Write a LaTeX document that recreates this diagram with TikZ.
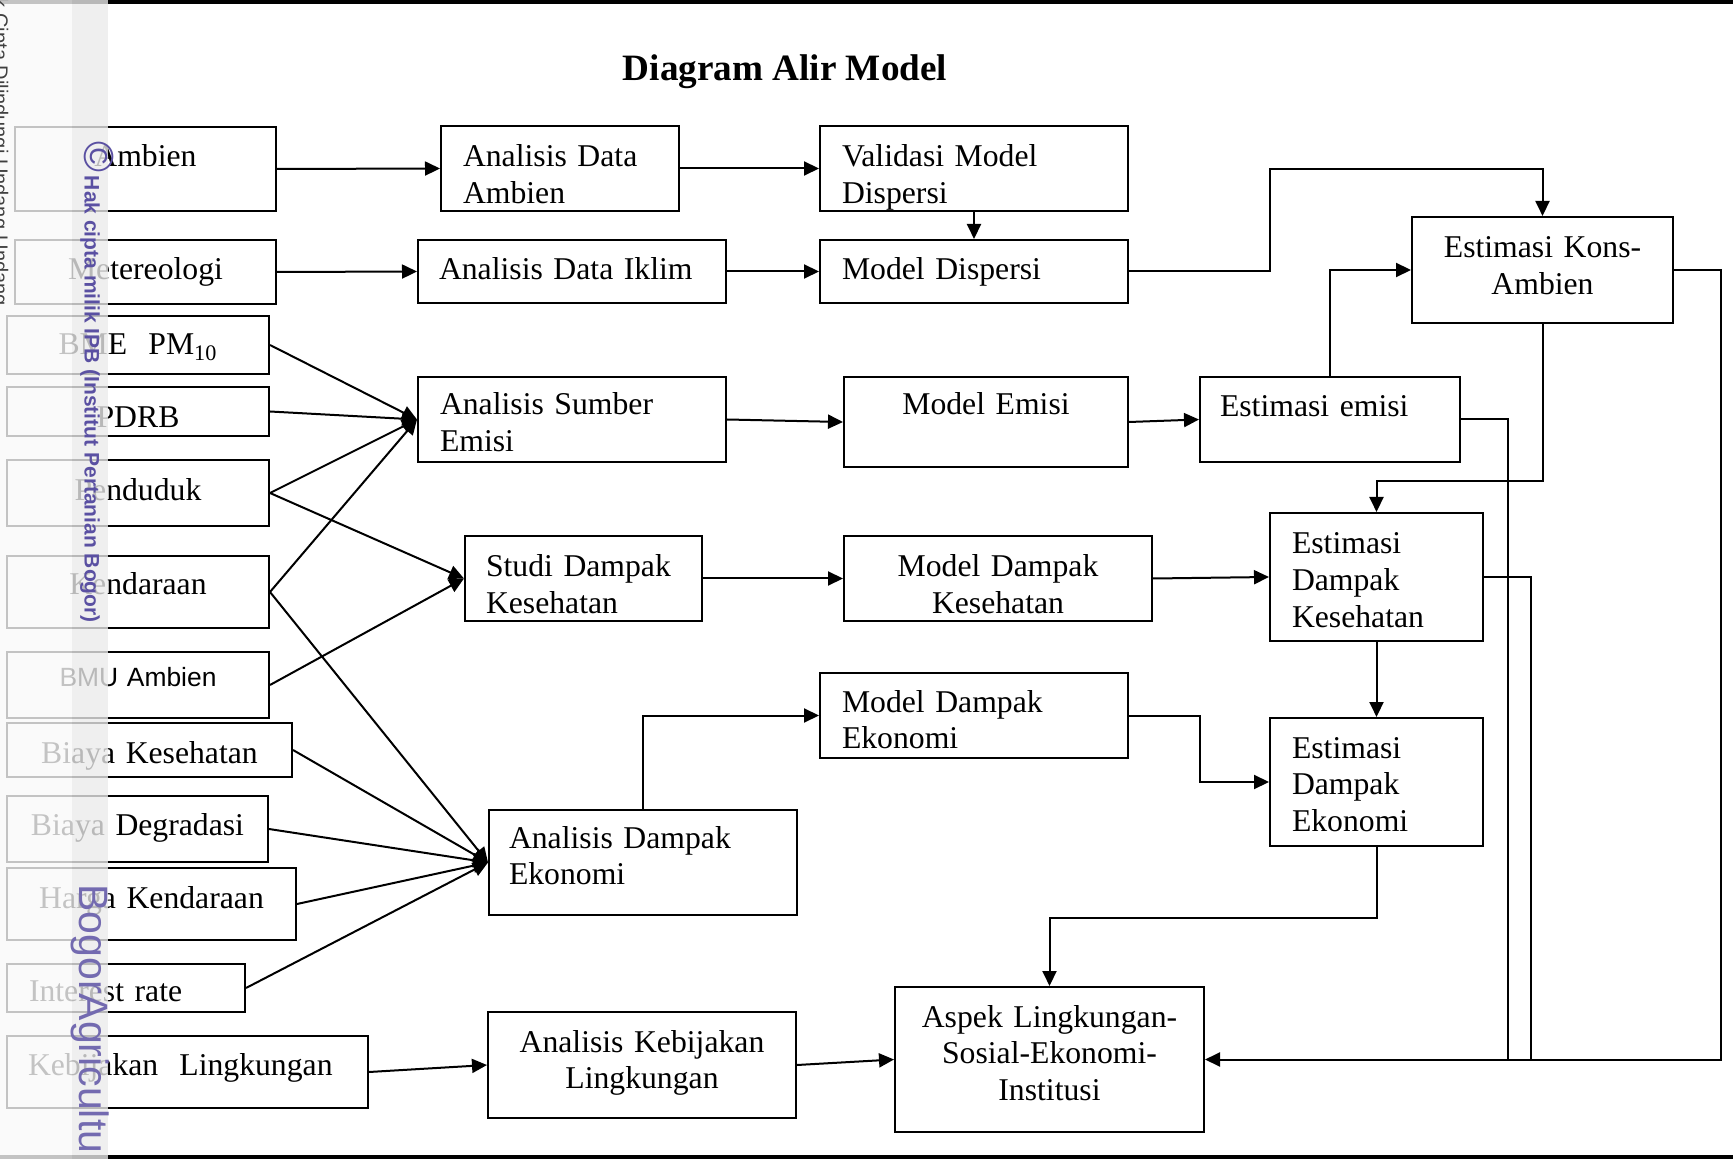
\documentclass[tikz,border=0pt]{standalone}
\usepackage{fontspec}
\setmainfont{Liberation Serif}
\newfontfamily\arialfont{Liberation Sans}
\usetikzlibrary{arrows.meta}
\definecolor{ipbpurple}{RGB}{90,80,162}

\begin{document}
\begin{tikzpicture}[x=0.5pt, y=-0.5pt]
\tikzstyle{box}=[draw, line width=1pt, rectangle, inner ysep=0pt, font=\fontsize{15.85}{18.25}\selectfont]
\tikzstyle{link}=[line width=1pt, -{Triangle[length=7.5pt, width=7pt]}]
\tikzstyle{wire}=[line width=1pt]
\tikzset{wh/.style n args={3}{minimum width=#1*0.5pt, minimum height=#2*0.5pt, inner xsep=#3*0.5pt, text width=(#1-2*#3)*0.5pt},
  drop/.style={text height=#1pt, text depth=0pt},
  rise/.style={text height=0pt, text depth=#1pt}}
\useasboundingbox (0,0) rectangle (1733,1159);

\fill (0,0) rectangle (1733,4);
\fill (0,1155) rectangle (1733,1159);
\draw (785,81) node[anchor=base, font=\bfseries\fontsize{18.6}{22}\selectfont] (title) {Diagram Alir Model};

% data masukan
\draw (145.5,169) node[box, wh={261}{84}{10}, align=center, rise=2] (ambien) {Ambien};
\draw (145.5,272) node[box, wh={261}{64}{10}, align=center, drop=8] (meteo) {Metereologi};
\draw (138,345) node[box, wh={262}{58}{10}, align=center, drop=10] (bme) {BME~~PM\textsubscript{10}};
\draw (138,411.5) node[box, wh={262}{49}{10}, align=center, drop=16.5] (pdrb) {PDRB};
\draw (138,493) node[box, wh={262}{66}{10}, align=center, drop=8] (pend) {Penduduk};
\draw (138,592) node[box, wh={262}{72}{10}, align=center, drop=3] (kend) {Kendaraan};
\draw (138,685) node[box, wh={262}{66}{10}, align=center, drop=1, font=\arialfont\fontsize{13.2}{15}\selectfont] (bmu) {BMU Ambien};
\draw (149.5,750) node[box, wh={285}{54}{10}, align=center, drop=13] (bkes) {Biaya Kesehatan};
\draw (137.5,829) node[box, wh={261}{66}{10}, align=center, drop=6] (bdeg) {Biaya Degradasi};
\draw (151.5,904) node[box, wh={289}{72}{10}, align=center, drop=4] (hkend) {Harga Kendaraan};
\draw (126,988) node[box, wh={238}{48}{22}, align=left, drop=13] (irate) {Interest rate};
\draw (187.5,1072) node[box, wh={361}{72}{21}, align=left, drop=3] (kebij) {Kebijakan~~Lingkungan};

% analisis dan model
\draw (560,168.5) node[box, wh={238}{85}{22}, align=left, rise=1.5] (ada) {Analisis Data\\Ambien};
\draw (974,168.5) node[box, wh={308}{85}{22}, align=left, rise=1.5] (valid) {Validasi Model\\Dispersi};
\draw (572,271.5) node[box, wh={308}{63}{21}, align=left, drop=8.5] (adi) {Analisis Data Iklim};
\draw (974,271.5) node[box, wh={308}{63}{22}, align=left, drop=8.5] (mdisp) {Model Dispersi};
\draw (572,419.5) node[box, wh={308}{85}{22}, align=left, rise=4.5] (ase) {Analisis Sumber\\Emisi};
\draw (986,422) node[box, wh={284}{90}{10}, align=center, rise=7] (memisi) {Model Emisi};
\draw (1330,419.5) node[box, wh={260}{85}{20}, align=left, rise=2.5] (eemisi) {Estimasi emisi};
\draw (1542.5,270) node[box, wh={261}{106}{10}, align=center, rise=12] (kons) {Estimasi Kons-\\Ambien};
\draw (583.5,578.5) node[box, wh={237}{85}{21}, align=left, rise=1.5] (sdk) {Studi Dampak\\Kesehatan};
\draw (998,578.5) node[box, wh={308}{85}{10}, align=center, rise=1.5] (mdk) {Model Dampak\\Kesehatan};
\draw (1376.5,577) node[box, wh={213}{128}{22}, align=left, rise=23] (edk) {Estimasi\\Dampak\\Kesehatan};
\draw (974,715.5) node[box, wh={308}{85}{22}, align=left, rise=3.5] (mde) {Model Dampak\\Ekonomi};
\draw (1376.5,782) node[box, wh={213}{128}{22}, align=left, rise=24] (ede) {Estimasi\\Dampak\\Ekonomi};
\draw (643,862.5) node[box, wh={308}{105}{20}, align=left, rise=14.5] (ade) {Analisis Dampak\\Ekonomi};
\draw (642,1065) node[box, wh={308}{106}{10}, align=center, rise=13] (akl) {Analisis Kebijakan\\Lingkungan};
\draw (1049.5,1059.5) node[box, wh={309}{145}{10}, align=center, rise=32.5] (aspek) {Aspek Lingkungan-\\Sosial-Ekonomi-\\Institusi};

% alur
\draw[link] (ambien.east) -- (ada.west);
\draw[link] (meteo.east) -- (adi.west);
\draw[link] (ada.east) -- (valid.west);
\draw[link] (adi.east) -- (mdisp.west);
\draw[link] (valid.south) -- (mdisp.north);
\draw[link] (mdisp.east) -| (1270,169) -| (kons.north);
\draw[link] (eemisi.north) |- (kons.west);
\draw[link] (ase.east) -- (memisi.west);
\draw[link] (memisi.east) -- (eemisi.west);
\draw[link] (kons.south) -- ++(0,157) -| (edk.north);
\draw[link] (sdk.east) -- (mdk.west);
\draw[link] (mdk.east) -- (edk.west);
\draw[link] (edk.south) -- (ede.north);
\draw[link] (ade.north) |- (mde.west);
\draw[link] (mde.east) -- ++(71,0) |- (ede.west);
\draw[link] (ede.south) -- ++(0,71) -| (aspek.north);
\draw[link] (kebij.east) -- (akl.west);
\draw[link] (akl.east) -- (aspek.west);
\draw[link] (kons.east) -| (1721,1059.5) -- (aspek.east);
\draw[wire] (eemisi.east) -| (1508,1059.5);
\draw[wire] (edk.east) -| (1531,1059.5);

\draw[link] (bme.east) -- (ase.west);
\draw[link] (pdrb.east) -- (ase.west);
\draw[link] (pend.east) -- (ase.west);
\draw[link] (kend.east) -- (ase.west);
\draw[link] (pend.east) -- (sdk.west);
\draw[link] (bmu.east) -- (sdk.west);
\draw[link] (kend.east) -- (ade.west);
\draw[link] (bkes.east) -- (ade.west);
\draw[link] (bdeg.east) -- (ade.west);
\draw[link] (hkend.east) -- (ade.west);
\draw[link] (irate.east) -- (ade.west);

% pita tanda air di kiri
\fill[gray!5, opacity=0.785] (0,0) rectangle (72,1159);
\fill[gray!16, opacity=0.785] (72,0) rectangle (108,1159);
\draw (-6,-28) node[rotate=-90, anchor=base west, inner sep=0pt, text=black!75, font=\arialfont\fontsize{10}{12}\selectfont] (undang) {Hak Cipta Dilindungi Undang-Undang};
\draw (97,141) node[rotate=-90, anchor=west, inner sep=0pt, text=ipbpurple, font=\arialfont\bfseries\fontsize{10.5}{12}\selectfont] (hakcipta) {{\mdseries\fontsize{21}{21}\selectfont ©}\,Hak cipta milik IPB (Institut Pertanian Bogor)};
\draw (90,884) node[rotate=-90, anchor=west, inner sep=0pt, text=ipbpurple!85, font=\arialfont\fontsize{20.5}{22}\selectfont] (bogor) {BogorAgricultu};
\end{tikzpicture}
\end{document}
